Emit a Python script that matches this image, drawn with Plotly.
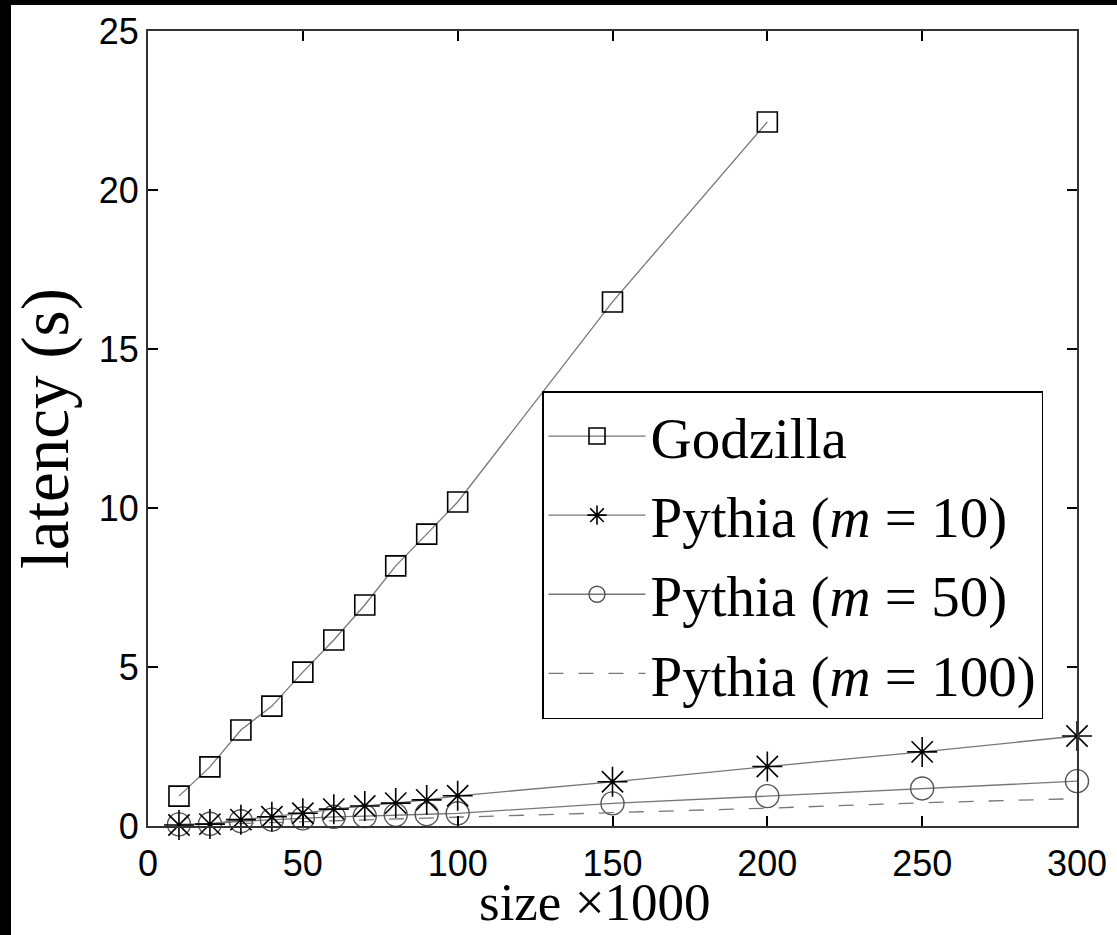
import plotly.graph_objects as go

sizes_godzilla = [10, 20, 30, 40, 50, 60, 70, 80, 90, 100, 150, 200]
lat_godzilla = [0.94, 1.86, 3.02, 3.77, 4.84, 5.85, 6.95, 8.18, 9.18, 10.19, 16.48, 22.14]

sizes_pythia = [10, 20, 30, 40, 50, 60, 70, 80, 90, 100, 150, 200, 250, 300]
lat_m10 = [0.03, 0.06, 0.2, 0.29, 0.4, 0.53, 0.63, 0.72, 0.82, 0.95, 1.39, 1.87, 2.33, 2.83]
lat_m50 = [0.05, 0.07, 0.15, 0.2, 0.24, 0.29, 0.31, 0.35, 0.37, 0.4, 0.71, 0.94, 1.18, 1.41]
lat_m100 = [0.02, 0.05, 0.08, 0.1, 0.13, 0.16, 0.19, 0.22, 0.25, 0.28, 0.42, 0.56, 0.73, 0.86]

x_ticks = [0, 50, 100, 150, 200, 250, 300]
y_ticks = [0, 5, 10, 15, 20, 25]

SERIF = "Liberation Serif"
SANS = "Liberation Sans"
LINE_GRAY = "#777777"

fig = go.Figure()
fig.add_trace(go.Scatter(
    x=sizes_godzilla, y=lat_godzilla, name="Godzilla", mode="lines+markers",
    line=dict(color=LINE_GRAY, width=1.3),
    marker=dict(symbol="square-open", size=20, color="black", line=dict(width=1.6, color="black")),
    cliponaxis=False, legendgroup="g1", legendrank=1,
))
fig.add_trace(go.Scatter(
    x=sizes_pythia, y=lat_m50, name="Pythia (<i>m</i> = 50)", mode="lines+markers",
    line=dict(color=LINE_GRAY, width=1.3),
    marker=dict(symbol="circle-open", size=23, color="#555555", line=dict(width=1.4, color="#555555")),
    cliponaxis=False, legendgroup="g3", legendrank=3,
))
fig.add_trace(go.Scatter(
    x=sizes_pythia, y=lat_m100, name="Pythia (<i>m</i> = 100)", mode="lines",
    line=dict(color=LINE_GRAY, width=1.3, dash="15px,15px"),
    cliponaxis=False, legendgroup="g4", legendrank=4,
))
fig.add_trace(go.Scatter(
    x=sizes_pythia, y=lat_m10, name="Pythia (<i>m</i> = 10)", mode="lines+markers",
    line=dict(color=LINE_GRAY, width=1.3),
    marker=dict(symbol="asterisk-open", size=25, color="black", line=dict(width=1.6, color="black")),
    cliponaxis=False, legendgroup="g2", legendrank=2,
))

W, H = 1117, 935
L, R, T, B = 148, 1077, 31, 826

def px_x(p):
    return (p - L) / (R - L)

def px_y(p):
    return (B - p) / (B - T)

fig.update_layout(
    width=W, height=H,
    margin=dict(l=L, r=W - R, t=T, b=H - B, pad=0, autoexpand=False),
    paper_bgcolor="white", plot_bgcolor="white",
    showlegend=True,
    legend=dict(
        x=px_x(542), y=px_y(391), xanchor="left", yanchor="top",
        bgcolor="white", bordercolor="black", borderwidth=1.5,
        font=dict(family=SERIF, size=57, color="black"),
        itemwidth=97, tracegroupgap=2, traceorder="grouped",
    ),
    xaxis=dict(
        range=[0, 300], tickvals=x_ticks, ticks="inside", ticklen=10, tickwidth=1.5,
        tickcolor="black", showline=True, linecolor="#333333", linewidth=2, mirror="ticks",
        showgrid=False, zeroline=False, ticklabelstandoff=5, automargin=False,
        tickfont=dict(family=SANS, size=36, color="black"),
    ),
    yaxis=dict(
        range=[0, 25], tickvals=y_ticks, ticks="inside", ticklen=10, tickwidth=1.5,
        tickcolor="black", showline=True, linecolor="#333333", linewidth=2, mirror="ticks",
        showgrid=False, zeroline=False, ticklabelstandoff=0, automargin=False,
        tickfont=dict(family=SANS, size=36, color="black"),
        title=dict(text="latency (s)", font=dict(family=SERIF, size=67, color="black"), standoff=8),
    ),
    annotations=[
        dict(text="size ×1000", xref="paper", yref="paper", x=px_x(595), y=px_y(902),
             xanchor="center", yanchor="middle", showarrow=False,
             font=dict(family=SERIF, size=53, color="black")),
    ],
    shapes=[
        dict(type="rect", xref="paper", yref="paper", x0=px_x(0), x1=px_x(11), y0=px_y(H), y1=px_y(0),
             fillcolor="black", line=dict(width=0), layer="above"),
        dict(type="rect", xref="paper", yref="paper", x0=px_x(0), x1=px_x(W), y0=px_y(5), y1=px_y(0),
             fillcolor="black", line=dict(width=0), layer="above"),
    ],
)

fig.write_html(
    "out.html",
    config={"displayModeBar": False},
    post_script="document.body.style.margin='0px';document.body.style.overflow='hidden';",
)
